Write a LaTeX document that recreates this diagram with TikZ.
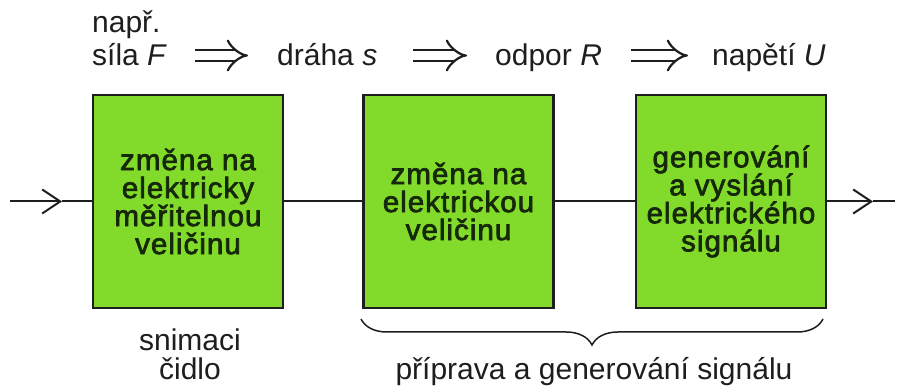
\documentclass[tikz,border=0pt]{standalone}
\usepackage{fontspec}
\setmainfont{Liberation Sans}
\newfontface\blockface{Liberation Sans}[LetterSpace=3.5, RawFeature={embolden=2.4}]
\usetikzlibrary{arrows.meta,decorations.pathreplacing}
\definecolor{boxgreen}{RGB}{130,218,42}
\definecolor{boxtext}{RGB}{22,40,10}
\definecolor{ink}{RGB}{30,30,30}
\begin{document}
\begin{tikzpicture}[x=1pt,y=-1pt,
  block/.style={draw=ink, line width=2.2pt, fill=boxgreen,
    minimum width=190pt, minimum height=213pt, inner sep=0pt,
    align=center, text=boxtext, font=\blockface\fontsize{29.5}{28}\selectfont},
  caption/.style={inner sep=0pt, text=ink, font=\fontsize{30}{26}\selectfont},
  wire/.style={draw=ink, line width=2pt},
  barb/.style={-{Straight Barb[length=18pt,width=24pt]}},
  implies/.style={draw=ink, line width=2.2pt, double distance=9pt, -{Implies}},
  bracestyle/.style={draw=ink, line width=1.5pt, decorate,
    decoration={brace, amplitude=26pt, mirror}}
]
\useasboundingbox[fill=white] (0,0) rectangle (897,387);

% processing blocks
\node[block] (b1) at (188,201.5) {změna na\\elektricky\\měřitelnou\\veličinu};
\node[block] (b2) at (458.5,201.5) {změna na\\elektrickou\\veličinu};
\node[block] (b3) at (731,201.5) {generování\\a vyslání\\elektrického\\signálu};

% signal path
\coordinate (in0) at (10,201.5);
\coordinate (inhead) at (62,201.5);
\coordinate (outhead) at (873,201.5);
\coordinate (out1) at (895,201.5);
\draw[wire,barb] (in0) -- (inhead);
\draw[wire] (inhead) -- (b1.west);
\draw[wire] (b1.east) -- (b2.west);
\draw[wire] (b2.east) -- (b3.west);
\draw[wire,barb] (b3.east) -- (outhead);
\draw[wire] (outhead) -- (out1);

% quantity chain above the blocks
\node[caption, anchor=base west] (eg) at (92,33) {např.};
\node[caption, anchor=base west] (force) at (92,66) {síla \textit{F}};
\node[caption, anchor=base west] (path) at (277,66) {dráha \textit{s}};
\node[caption, anchor=base west] (res) at (495,66) {odpor \textit{R}};
\node[caption, anchor=base west] (volt) at (712,66) {napětí \textit{U}};
\draw[implies] ([xshift=28pt,yshift=10.5pt]force.base east) -- ([xshift=-29pt,yshift=10.5pt]path.base west);
\draw[implies] ([xshift=36pt,yshift=10.5pt]path.base east) -- ([xshift=-28pt,yshift=10.5pt]res.base west);
\draw[implies] ([xshift=29pt,yshift=10.5pt]res.base east) -- ([xshift=-24pt,yshift=10.5pt]volt.base west);

% captions below
\node[caption, align=center, anchor=base, font=\fontsize{30}{28.5}\selectfont] (sensor) at (190,379) {snimaci\\čidlo};
\coordinate (brL) at (361,319);
\coordinate (brR) at (823,319);
\draw[bracestyle] (brL) -- (brR);
\node[caption, anchor=base] (prep) at (594,379) {příprava a generování signálu};
\end{tikzpicture}
\end{document}
